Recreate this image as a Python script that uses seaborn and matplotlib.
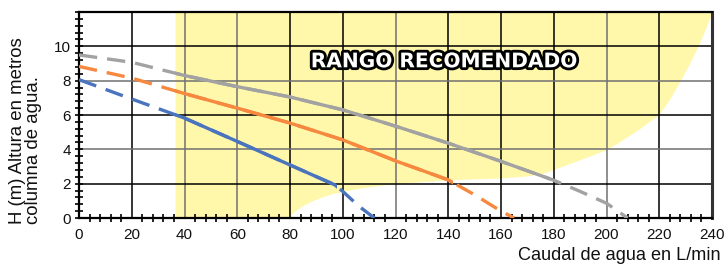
import matplotlib
matplotlib.use("Agg")
import matplotlib.pyplot as plt
import matplotlib.patheffects as pe
from matplotlib.patches import Rectangle
from matplotlib.ticker import MultipleLocator
import pandas as pd
import seaborn as sns

# pump curves (caudal L/min -> altura m)
gray_x = [0, 20, 40, 60, 80, 100, 120, 140, 160, 180, 190, 200, 208]
gray_y = [9.5, 9.07, 8.3, 7.65, 7.05, 6.3, 5.35, 4.36, 3.3, 2.2, 1.55, 0.86, 0]
orange_x = [0, 20, 40, 60, 80, 100, 120, 140, 150, 160, 165]
orange_y = [8.83, 8.15, 7.25, 6.4, 5.53, 4.55, 3.33, 2.22, 1.35, 0.4, 0]
blue_x = [0, 20, 40, 60, 80, 97, 100, 106, 112]
blue_y = [8.06, 6.93, 5.82, 4.46, 3.09, 1.93, 1.55, 0.7, 0]

# where each curve is drawn solid (inside the recommended range)
solid_ranges = {"gris": (36.4, 178.6), "naranja": (36.4, 141.9), "azul": (36.4, 97.7)}

# recommended range: lower boundary of the yellow area
range_x = [36.4, 80, 81, 84, 88, 92, 96, 100, 105, 110, 120, 130, 140, 150, 160,
           170, 176, 182, 190, 196, 200, 204, 208, 212, 216, 220, 224, 228, 232,
           235, 237.5, 239.5, 240]
range_y = [0, 0, 0.3, 0.65, 0.98, 1.22, 1.42, 1.55, 1.7, 1.82, 2.0, 2.12, 2.22, 2.28, 2.33,
           2.45, 2.6, 2.95, 3.4, 3.75, 4.0, 4.35, 4.75, 5.15, 5.6, 6.05, 6.95, 8.0, 9.15,
           10.1, 11.0, 11.8, 12]
range_top = 12

xticks = list(range(0, 241, 20))
yticks = [0, 2, 4, 6, 8, 10]
gray_grid_x = [40, 60, 120, 200]
gray_grid_y = [4, 8]

colors = {"gris": "#a2a2a2", "naranja": "#f7883f", "azul": "#4a74bd"}

rows = []
for name, xs, ys in [("gris", gray_x, gray_y), ("naranja", orange_x, orange_y), ("azul", blue_x, blue_y)]:
    for x, y in zip(xs, ys):
        rows.append({"bomba": name, "caudal": x, "altura": y})
df = pd.DataFrame(rows)

sns.set_theme(style="white")
plt.rcParams["font.family"] = ["Liberation Sans", "DejaVu Sans"]

fig = plt.figure(figsize=(7.25, 2.64), dpi=100)
ax = fig.add_axes([79 / 725, 1 - 218 / 264, (712 - 79) / 725, (218 - 12) / 264])

ax.fill_between(range_x, range_y, range_top, color="#fff7aa", lw=0, zorder=0.2)

for name in ["gris", "naranja", "azul"]:
    sub = df[df["bomba"] == name]
    sns.lineplot(data=sub, x="caudal", y="altura", ax=ax, color=colors[name],
                 lw=2.4, dashes=False, zorder=3, legend=False,
                 linestyle=(0, (5.5, 3.0)), solid_capstyle="butt")
    solid = sns.lineplot(data=sub, x="caudal", y="altura", ax=ax, color=colors[name],
                         lw=2.4, zorder=4, legend=False, solid_capstyle="butt")
    line = solid.lines[-1]
    x0, x1 = solid_ranges[name]
    line.set_clip_path(Rectangle((x0, -1), x1 - x0, 14, transform=ax.transData))

ax.text(138.4, 9.1, "RANGO RECOMENDADO", fontsize=14.5, fontweight="bold",
        family="DejaVu Sans", color="white", ha="center", va="center", zorder=5,
        path_effects=[pe.withStroke(linewidth=4, foreground="black")])

ax.set_xlim(0, 240)
ax.set_ylim(0, 12)
ax.set_xticks(xticks)
ax.set_yticks(yticks)
ax.xaxis.set_minor_locator(MultipleLocator(4))
ax.yaxis.set_minor_locator(MultipleLocator(0.4))
ax.tick_params(which="both", direction="inout", length=6, width=1.2, color="black",
               bottom=True, left=True, labelsize=11, labelcolor="#111111")
ax.tick_params(axis="x", which="major", length=0, pad=7)
ax.tick_params(axis="y", which="major", pad=3)

ax.grid(True, which="major", color="black", lw=1.1)
ax.set_axisbelow(True)
for gl, v in zip(ax.get_xgridlines(), xticks):
    gl.set_color("#707070" if v in gray_grid_x else "black")
for gl, v in zip(ax.get_ygridlines(), yticks):
    gl.set_color("#707070" if v in gray_grid_y else "black")
ax.axhline(range_top, color="black", lw=1.1, zorder=0.5)

for side, sp in ax.spines.items():
    sp.set_color("black")
    sp.set_linewidth(1.6)
ax.spines["right"].set_linewidth(2.2)
ax.spines["right"].set_color("#333333")

ax.set_xlabel("")
ax.set_ylabel("")
fig.text(0.012, 1 - 224 / 264, "H (m) Altura en metros\ncolumna de agua.", rotation=90,
         fontsize=13.4, ha="left", va="bottom", multialignment="left", linespacing=0.95,
         color="#111111")
fig.text(721 / 725, 1 - 256 / 264, "Caudal de agua en L/min", fontsize=13.1,
         ha="right", va="center", color="#111111")

fig.savefig("out.png", dpi=100)
